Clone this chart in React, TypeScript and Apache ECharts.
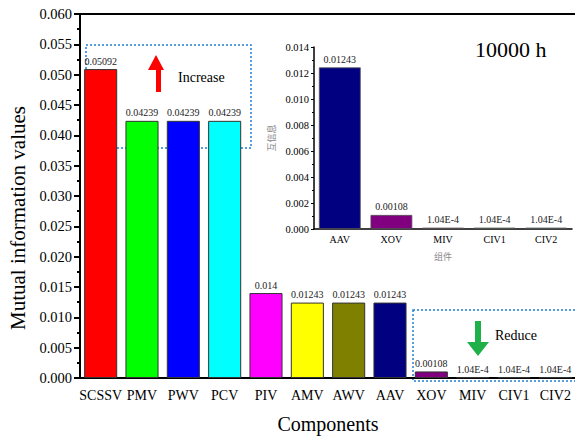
import React, { useEffect, useRef } from "react";
import * as echarts from "echarts";

const categories = ["SCSSV", "PMV", "PWV", "PCV", "PIV", "AMV", "AWV", "AAV", "XOV", "MIV", "CIV1", "CIV2"];
const values = [0.05092, 0.04239, 0.04239, 0.04239, 0.014, 0.01243, 0.01243, 0.01243, 0.00108, 0.000104, 0.000104, 0.000104];
const colors = ["#ff0000", "#00ff00", "#0000ff", "#00ffff", "#ff00ff", "#ffff00", "#808000", "#000080", "#800080", "#800000", "#008000", "#008080"];

const insetCategories = ["AAV", "XOV", "MIV", "CIV1", "CIV2"];
const insetValues = [0.01243, 0.00108, 0.000104, 0.000104, 0.000104];
const insetColors = ["#000080", "#800080", "#800000", "#008000", "#008080"];

const SERIF = "'Liberation Serif', 'Times New Roman', serif";
const CJK = "'Noto Sans CJK SC', sans-serif";

const fmtVal = (v: number) => (v < 0.001 ? v.toExponential(2).toUpperCase() : String(v));

export default function App() {
  const ref = useRef<HTMLDivElement>(null);
  useEffect(() => {
    const chart = echarts.init(ref.current!, null, { renderer: "svg" });
    const option: any = {
      animation: false,
      backgroundColor: "#fff",
      textStyle: { fontFamily: SERIF },
      grid: [
        { left: 80, top: 14, right: -1, bottom: 60, outerBoundsMode: "none", containLabel: false, show: true, borderColor: "#000", borderWidth: 2, backgroundColor: "transparent" },
        { left: 314, top: 47, right: 3, bottom: 209, outerBoundsMode: "none", containLabel: false },
      ],
      xAxis: [
        {
          type: "category",
          gridIndex: 0,
          data: categories,
          axisLine: { lineStyle: { color: "#000", width: 2 } },
          axisTick: { alignWithLabel: true, length: 7, lineStyle: { color: "#000", width: 2 } },
          axisLabel: { color: "#000", fontSize: 14, fontFamily: SERIF, margin: 10, interval: 0 },
          name: "Components",
          nameLocation: "middle",
          nameGap: 36,
          nameTextStyle: { color: "#000", fontSize: 20, fontFamily: SERIF },
        },
        {
          type: "category",
          gridIndex: 1,
          data: insetCategories,
          axisLine: { lineStyle: { color: "#000", width: 1.5 } },
          axisTick: { alignWithLabel: true, length: 3, lineStyle: { color: "#000" } },
          axisLabel: { color: "#000", fontSize: 10, fontFamily: SERIF, margin: 5, interval: 0 },
          name: "组件",
          nameLocation: "middle",
          nameGap: 23,
          nameTextStyle: { color: "#888", fontSize: 9, fontFamily: CJK },
        },
      ],
      yAxis: [
        {
          type: "value",
          gridIndex: 0,
          min: 0,
          max: 0.06,
          interval: 0.005,
          axisLine: { show: true, lineStyle: { color: "#000", width: 2 } },
          axisTick: { show: true, length: 6, lineStyle: { color: "#000", width: 2 } },
          minorTick: { show: true, splitNumber: 2, length: 3, lineStyle: { color: "#000", width: 2 } },
          splitLine: { show: false },
          axisLabel: { color: "#000", fontSize: 14.5, fontFamily: SERIF, margin: 8, formatter: (v: number) => v.toFixed(3) },
        },
        {
          type: "value",
          gridIndex: 1,
          min: 0,
          max: 0.014,
          interval: 0.002,
          axisLine: { show: true, lineStyle: { color: "#000", width: 1.5 } },
          axisTick: { show: true, length: 3, lineStyle: { color: "#000" } },
          minorTick: { show: true, splitNumber: 2, length: 2, lineStyle: { color: "#000" } },
          splitLine: { show: false },
          axisLabel: { color: "#000", fontSize: 10.5, fontFamily: SERIF, margin: 5, formatter: (v: number) => v.toFixed(3) },
          name: "互信息",
          nameLocation: "middle",
          nameGap: 38,
          nameTextStyle: { color: "#888", fontSize: 9, fontFamily: CJK },
        },
      ],
      series: [
        {
          type: "bar",
          xAxisIndex: 0,
          yAxisIndex: 0,
          barCategoryGap: "20%",
          data: values.map((v, i) => ({ value: v, itemStyle: { color: colors[i] } })),
          itemStyle: { borderColor: "#333", borderWidth: 1 },
          label: { show: true, position: "top", distance: 3, fontSize: 10, color: "#222", fontFamily: SERIF, formatter: (p: any) => fmtVal(p.value) },
        },
        {
          type: "bar",
          xAxisIndex: 1,
          yAxisIndex: 1,
          barCategoryGap: "19%",
          data: insetValues.map((v, i) => ({ value: v, itemStyle: { color: insetColors[i] } })),
          itemStyle: { borderColor: "#555", borderWidth: 0.8 },
          label: { show: true, position: "top", distance: 3, fontSize: 10, color: "#222", fontFamily: SERIF, formatter: (p: any) => fmtVal(p.value) },
        },
      ],
      graphic: [
        { type: "rect", shape: { x: 86, y: 45, width: 165, height: 103 }, style: { fill: "none", stroke: "#1f7fd6", lineWidth: 1.5, lineDash: [2, 2] } },
        { type: "rect", shape: { x: 413, y: 310, width: 170, height: 71 }, style: { fill: "none", stroke: "#1f7fd6", lineWidth: 1.5, lineDash: [2, 2] } },
        {
          type: "polygon",
          shape: { points: [[156, 55], [164, 70], [161, 70], [161, 92], [156, 92], [156, 70], [148, 70]] },
          style: { fill: "#ff0000" },
        },
        {
          type: "polygon",
          shape: { points: [[478, 356], [489, 342], [481, 342], [481, 321], [475, 321], [475, 342], [467, 342]] },
          style: { fill: "#20b04a" },
        },
        { type: "text", x: 178, y: 70, style: { text: "Increase", fontSize: 14, fontFamily: SERIF, fill: "#000" } },
        { type: "text", x: 495, y: 328, style: { text: "Reduce", fontSize: 14, fontFamily: SERIF, fill: "#000" } },
        { type: "text", x: 475, y: 38, style: { text: "10000 h", fontSize: 22, fontFamily: SERIF, fill: "#000" } },
        {
          type: "text",
          x: 18,
          y: 218,
          rotation: Math.PI / 2,
          style: { text: "Mutual information values", fontSize: 21, fontFamily: SERIF, fill: "#000", align: "center", verticalAlign: "middle" },
        },
      ],
    };
    chart.setOption(option);
    return () => chart.dispose();
  }, []);
  return <div ref={ref} style={{ width: 575, height: 438, position: "fixed", left: 0, top: 0 }} />;
}
